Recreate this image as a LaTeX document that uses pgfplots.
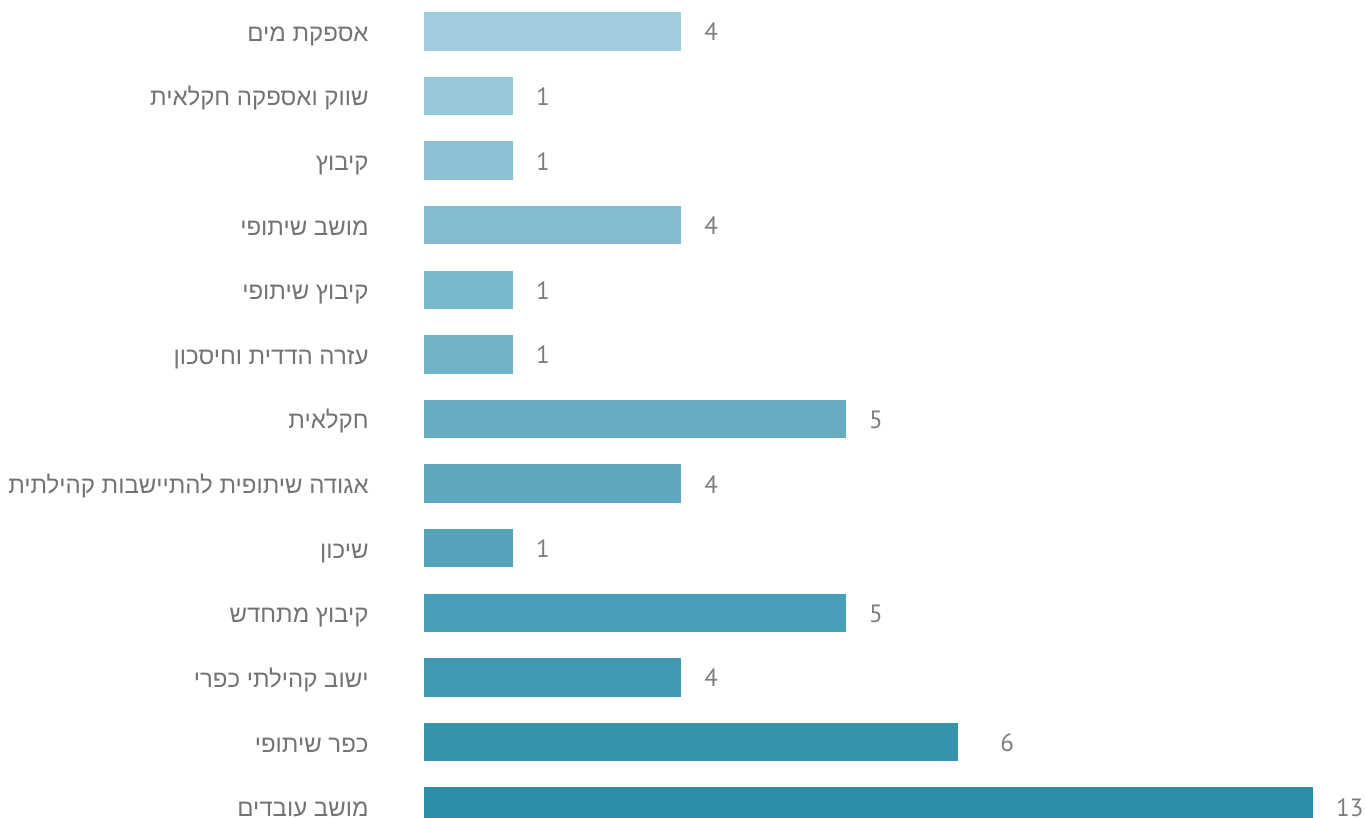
\documentclass[border=0pt]{standalone}
\usepackage{pgfplots}
\pgfplotsset{compat=1.18}
\usepackage{fontspec}
\setmainfont{PT Sans}
\newfontfamily\hebfont[Script=Hebrew]{Liberation Sans}
\TeXXeTstate=1

\definecolor{barL}{RGB}{159,204,223}
\definecolor{barD}{RGB}{46,142,168}
\definecolor{labgray}{RGB}{115,115,115}
\definecolor{numgray}{RGB}{125,125,125}

% bar lengths; the printed counts go on the labels
\begin{document}
\begin{tikzpicture}
\useasboundingbox (0pt,0pt) rectangle (1366pt,818pt);
\begin{axis}[
    at={(424pt,-21pt)}, anchor=south west,
    scale only axis, width=889pt, height=840pt,
    xmin=0, xmax=13, ymin=-0.5, ymax=12.5,
    xbar, bar width=38.5pt,
    clip=false,
    axis line style={draw=none}, tick style={draw=none},
    xtick=\empty, ytick={0,...,12},
    yticklabels={
        {\beginR מושב עובדים\endR},
        {\beginR כפר שיתופי\endR},
        {\beginR ישוב קהילתי כפרי\endR},
        {\beginR קיבוץ מתחדש\endR},
        {\beginR שיכון\endR},
        {\beginR אגודה שיתופית להתיישבות קהילתית\endR},
        {\beginR חקלאית\endR},
        {\beginR עזרה הדדית וחיסכון\endR},
        {\beginR קיבוץ שיתופי\endR},
        {\beginR מושב שיתופי\endR},
        {\beginR קיבוץ\endR},
        {\beginR שווק ואספקה חקלאית\endR},
        {\beginR אספקת מים\endR}},
    yticklabel style={font=\hebfont\fontsize{24}{28}\selectfont, text=labgray,
        anchor=base east, inner sep=0pt, xshift=-51pt, yshift=-10pt},
    every node near coord/.append style={font=\fontsize{25}{29}\selectfont,
        text=numgray, anchor=base west, inner sep=0pt, xshift=23pt, yshift=-9.5pt},
    every axis plot/.append style={draw=none, bar shift=0pt},
]
\addplot[fill=barD!0!barL,   nodes near coords={4}]  coordinates {(3.76,12)};
\addplot[fill=barD!8!barL,   nodes near coords={1}]  coordinates {(1.30,11)};
\addplot[fill=barD!17!barL,  nodes near coords={1}]  coordinates {(1.30,10)};
\addplot[fill=barD!25!barL,  nodes near coords={4}]  coordinates {(3.76,9)};
\addplot[fill=barD!33!barL,  nodes near coords={1}]  coordinates {(1.30,8)};
\addplot[fill=barD!42!barL,  nodes near coords={1}]  coordinates {(1.30,7)};
\addplot[fill=barD!50!barL,  nodes near coords={5}]  coordinates {(6.17,6)};
\addplot[fill=barD!58!barL,  nodes near coords={4}]  coordinates {(3.76,5)};
\addplot[fill=barD!67!barL,  nodes near coords={1}]  coordinates {(1.30,4)};
\addplot[fill=barD!75!barL,  nodes near coords={5}]  coordinates {(6.17,3)};
\addplot[fill=barD!83!barL,  nodes near coords={4}]  coordinates {(3.76,2)};
\addplot[fill=barD!92!barL,  nodes near coords={6},
    every node near coord/.append style={xshift=19pt}] coordinates {(7.81,1)};
\addplot[fill=barD!100!barL, nodes near coords={13}] coordinates {(13,0)};
\end{axis}
\end{tikzpicture}
\end{document}
